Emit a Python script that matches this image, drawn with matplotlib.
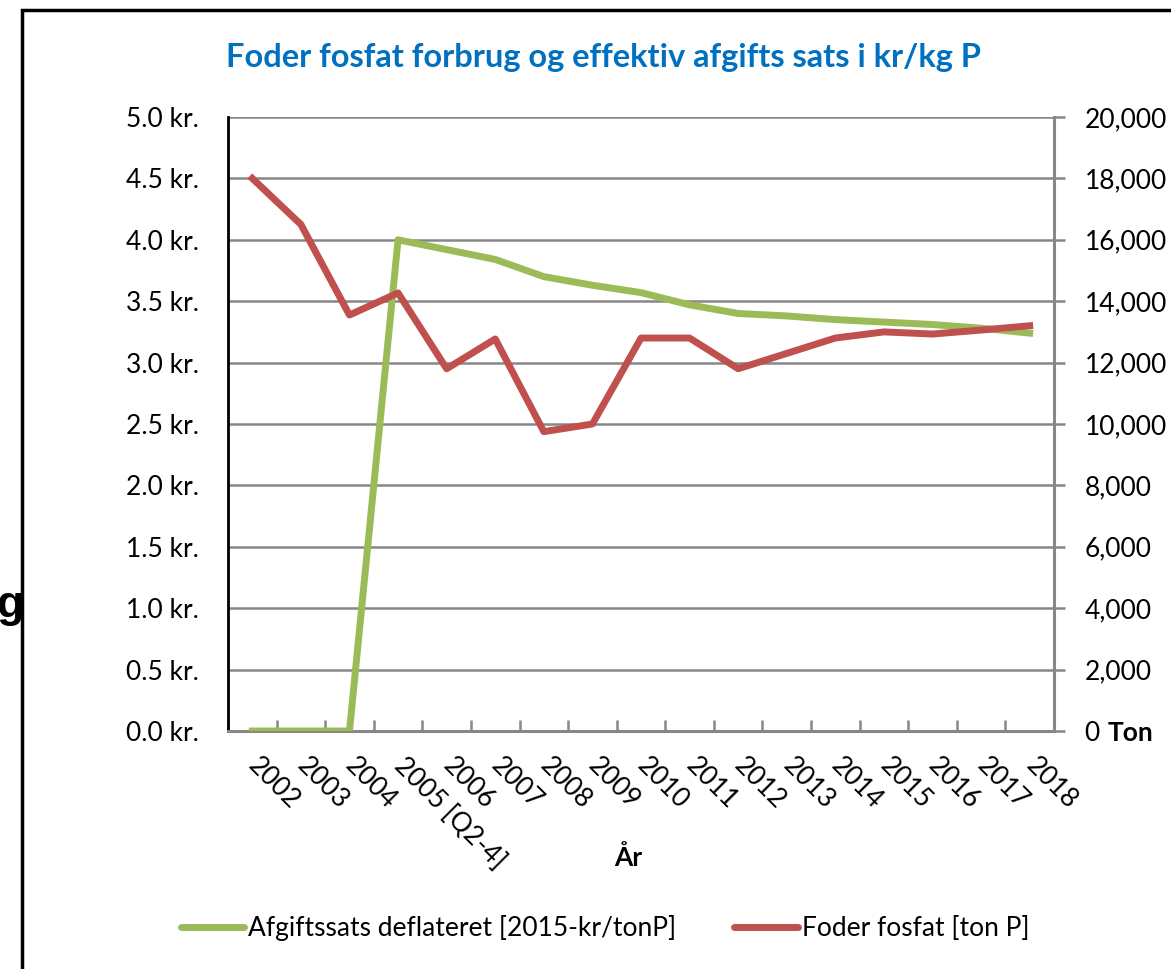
import matplotlib
matplotlib.use("Agg")
import matplotlib.pyplot as plt
from matplotlib.lines import Line2D
from matplotlib.patches import Rectangle
from matplotlib.ticker import FuncFormatter, MultipleLocator

plt.rcParams["font.family"] = ["Lato", "DejaVu Sans"]

years = ["2002", "2003", "2004", "2005 [Q2-4]", "2006", "2007", "2008", "2009",
         "2010", "2011", "2012", "2013", "2014", "2015", "2016", "2017", "2018"]
# afgiftssats, kr/kg P (left axis)
afgift = [0.0, 0.0, 0.0, 4.00, 3.92, 3.84, 3.70, 3.63, 3.57, 3.47, 3.40,
          3.38, 3.35, 3.33, 3.31, 3.28, 3.24]
# foder fosfat, ton P (right axis)
foder = [18000, 16500, 13550, 14270, 11800, 12770, 9750, 10000, 12800, 12800,
         11800, 12300, 12800, 13000, 12930, 13060, 13200]

green = "#9BBB59"
red = "#C0504D"
grid_grey = "#878787"
fs = 19

fig = plt.figure(figsize=(11.71, 9.69), dpi=100)
ax = fig.add_axes([228 / 1171, 1 - 731 / 969, (1054 - 228) / 1171, (731 - 117) / 969])
ax2 = ax.twinx()

x = list(range(len(years)))
ax.plot(x, afgift, color=green, lw=5, solid_joinstyle="round", zorder=3)
ax2.plot(x, foder, color=red, lw=5, solid_joinstyle="round", zorder=3)

ax.set_xlim(-0.5, len(years) - 0.5)
ax.set_ylim(0, 5.0)
ax2.set_ylim(0, 20000)

ax.yaxis.set_major_locator(MultipleLocator(0.5))
ax.yaxis.set_major_formatter(FuncFormatter(lambda v, p: f"{v:.1f} kr."))
ax2.yaxis.set_major_locator(MultipleLocator(2000))
ax2.yaxis.set_major_formatter(FuncFormatter(lambda v, p: f"{v:,.0f}"))

ax.grid(axis="y", color=grid_grey, lw=1.8)
ax.set_axisbelow(True)

# category boundary ticks on the x axis, labels at centres
ax.set_xticks([i + 0.5 for i in range(-1, len(years))], minor=False)
ax.set_xticklabels([])
ax.tick_params(axis="x", which="major", direction="in", length=8, width=1.8,
               color=grid_grey)
ax.set_xticks(x, minor=True)
ax.set_xticklabels(years, minor=True, rotation=-45, ha="left", va="center",
                   rotation_mode="anchor", fontsize=fs)
ax.tick_params(axis="x", which="minor", length=0, pad=22)

ax.tick_params(axis="y", length=0, labelsize=fs, pad=21)
ax2.tick_params(axis="y", direction="out", length=8, width=1.8, color=grid_grey,
                labelsize=fs, pad=14)

for a in (ax, ax2):
    a.spines["top"].set_visible(False)
ax.spines["left"].set_color("black")
ax.spines["left"].set_linewidth(2)
ax.spines["bottom"].set_color(grid_grey)
ax.spines["bottom"].set_linewidth(2.2)
ax2.spines["right"].set_color(grid_grey)
ax2.spines["right"].set_linewidth(2.2)
ax2.spines["left"].set_visible(False)
ax2.spines["bottom"].set_visible(False)

fig.text(603 / 1171, 1 - 57 / 969, "Foder fosfat forbrug og effektiv afgifts sats i kr/kg P",
         ha="center", va="center", fontsize=23.5, fontweight="bold", color="#0070C0")
fig.text(628 / 1171, 1 - 858 / 969, "År", ha="center", va="center",
         fontsize=fs, fontweight="bold")
fig.text(1108 / 1171, 1 - 733 / 969, "Ton", ha="left", va="center",
         fontsize=fs, fontweight="bold")
fig.text(-4 / 1171, 1 - 605 / 969, "g", ha="left", va="center", fontsize=32,
         fontweight="bold", family="Liberation Sans")

handles = [Line2D([], [], color=green, lw=5, solid_capstyle="round"),
           Line2D([], [], color=red, lw=5, solid_capstyle="round")]
labels = ["Afgiftssats deflateret [2015-kr/tonP]", "Foder fosfat [ton P]"]
fig.legend(handles, labels, loc="center", bbox_to_anchor=(605 / 1171, 1 - 928 / 969),
           ncol=2, frameon=False, fontsize=fs, handlelength=2.4, handletextpad=0.15,
           columnspacing=2.2)

# black frame of the screenshot
fig.patches.append(Rectangle((22 / 1171, -0.05), 1.2, 1 - 10 / 969 + 0.05,
                             transform=fig.transFigure, fill=False,
                             edgecolor="black", lw=2.5))

fig.savefig("out.png", dpi=100)
